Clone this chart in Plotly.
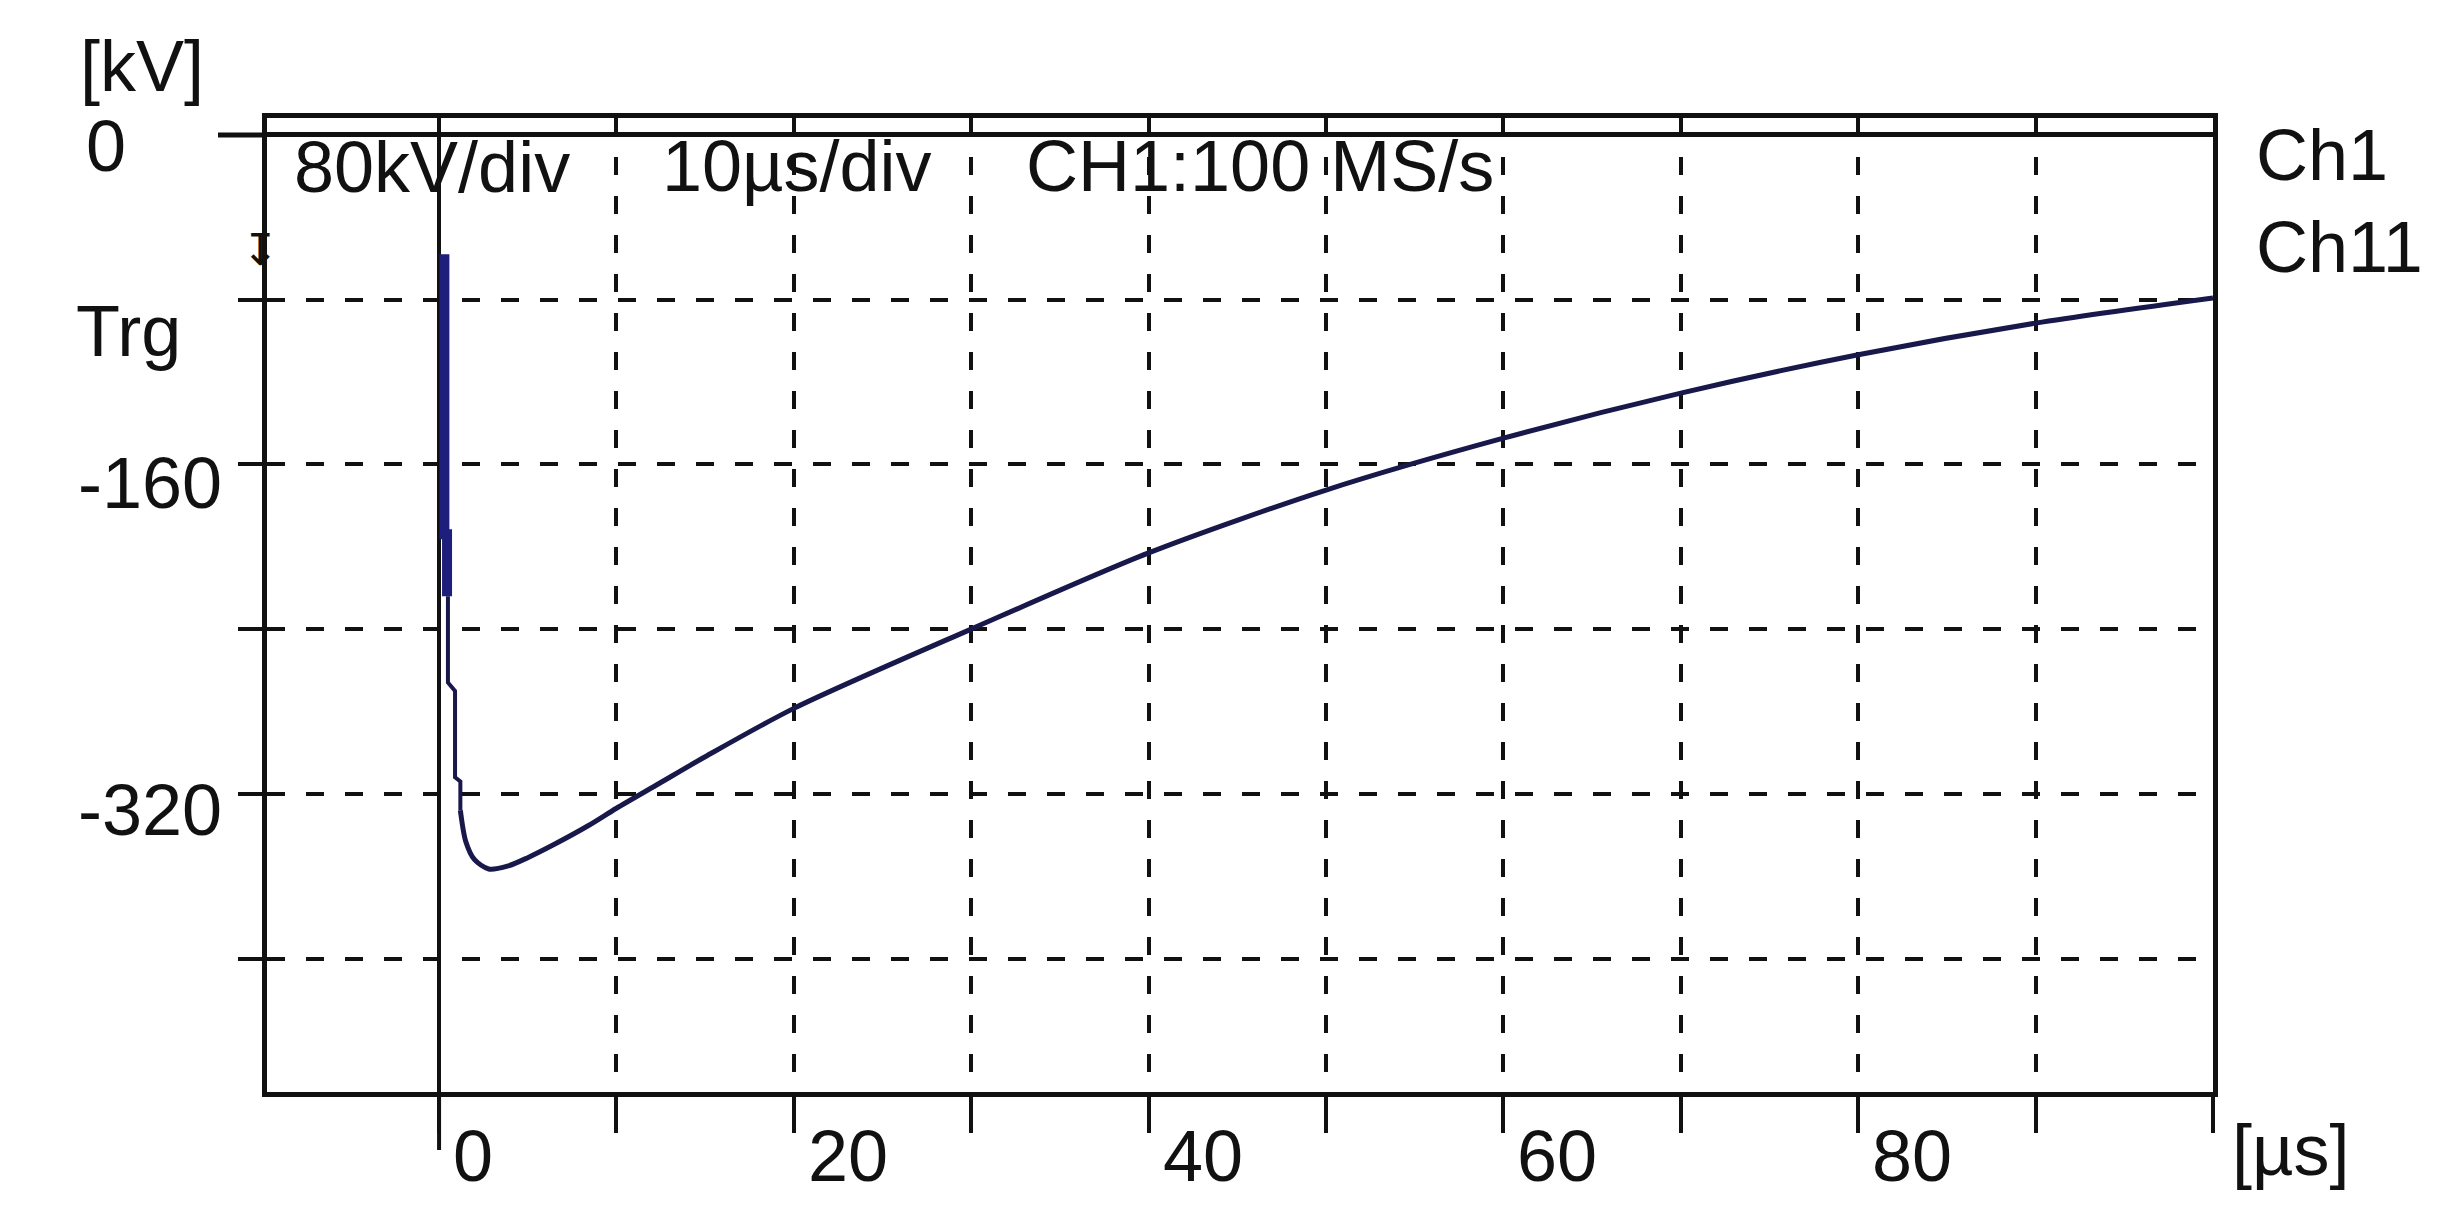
import plotly.graph_objects as go

# Impulse waveform (time in µs, voltage in kV).
# Front spike (the thick blue stroke right after the trigger).
SPIKE_T = [0.3, 0.3, 0.45, 0.45]
SPIKE_KV = [-58, -194, -194, -224]

# Stepped fall right after the spike.
FRONT_T = [0.5, 0.5, 0.9, 0.9, 1.2, 1.2]
FRONT_KV = [-224, -266, -270, -312, -314, -328]

# Smooth tail of the impulse.
TAIL_T = [1.2, 1.5, 2.0, 2.8, 3.9, 5.0, 6.5, 8.4, 10.0, 12.4, 15.0, 20.0,
          30.0, 40.0, 50.0, 60.0, 70.0, 80.0, 90.0, 100.0]
TAIL_KV = [-328, -343, -352, -356.5, -355, -351, -344.5, -335.5, -327, -315,
           -302, -278.5, -240, -203, -172.5, -147.3, -125.4, -106.8, -91.4,
           -79.2]

X_GRID = [0, 10, 20, 30, 40, 50, 60, 70, 80, 90, 100]
Y_GRID = [0, -80, -160, -240, -320, -400]
X_LABELS = [0, 20, 40, 60, 80]
Y_LABELS = ["0", "-160", "-320"]

X_RANGE = [-9.7, 100]
Y_RANGE = [-464.8, 8.2]

W, H = 2455, 1222
L, R, T, B = 259, 250, 110, 138
PW, PH = W - L - R, H - T - B

FONT = "Liberation Sans, Arial, sans-serif"
INK = "#111111"
FS = 72
LIFT = 8  # annotation boxes sit a little low against the cap height


def paper(xpx, ypx):
    return (xpx - L) / PW, (H - B - ypx) / PH


def label(text, xpx, ypx, size=FS, family=FONT):
    px, py = paper(xpx, ypx - LIFT)
    return dict(text=text, x=px, y=py, xref="paper", yref="paper",
                xanchor="left", yanchor="middle", showarrow=False,
                font=dict(family=family, size=size, color=INK))


fig = go.Figure()
fig.add_trace(go.Scatter(x=SPIKE_T, y=SPIKE_KV, mode="lines",
                         line=dict(color="#1e1e7c", width=10),
                         hoverinfo="skip", showlegend=False))
fig.add_trace(go.Scatter(x=FRONT_T, y=FRONT_KV, mode="lines",
                         line=dict(color="#18184a", width=4),
                         showlegend=False))
fig.add_trace(go.Scatter(x=TAIL_T, y=TAIL_KV, mode="lines",
                         line=dict(color="#18184a", width=5,
                                   shape="spline", smoothing=0.8),
                         showlegend=False))

annotations = [
    label("[kV]", 70, 66),
    label(Y_LABELS[0], 76, 146),
    label(Y_LABELS[1], 68, 483),
    label(Y_LABELS[2], 68, 810),
    label("Trg", 66, 331),
    label("\u21a7", 232, 249, size=44, family="DejaVu Sans"),
    label("[µs]", 2222, 1150),
    label("80kV/div", 284, 167),
    label("10µs/div", 652, 166),
    label("CH1:100 MS/s", 1016, 166),
    label("Ch1", 2246, 155),
    label("Ch11", 2246, 247),
]
# x-axis numbers sit to the right of their tick
for val in X_LABELS:
    annotations.append(dict(
        text=str(val), x=val, y=paper(0, 1148)[1], xref="x",
        yref="paper", xanchor="left", yanchor="middle", xshift=12,
        showarrow=False, font=dict(family=FONT, size=FS, color=INK)))

fig.update_layout(
    width=W, height=H,
    margin=dict(l=L, r=R, t=T, b=B, pad=0),
    paper_bgcolor="white", plot_bgcolor="white",
    showlegend=False,
    annotations=annotations,
    xaxis=dict(range=X_RANGE, tickvals=X_GRID, showticklabels=False,
               ticks="outside", ticklen=36, tickwidth=4, tickcolor=INK,
               showline=True, linewidth=5, linecolor=INK, mirror=True,
               showgrid=True, gridcolor=INK, gridwidth=4,
               griddash="18px,21px",
               zeroline=True, zerolinecolor=INK, zerolinewidth=4),
    # top strip: short solid division marks between the frame and the 0 line
    xaxis2=dict(range=X_RANGE, tickvals=X_GRID, showticklabels=False,
                overlaying="x", side="top", ticks="inside", ticklen=18,
                tickwidth=4, tickcolor=INK, showgrid=False, zeroline=False,
                showline=False),
    yaxis=dict(range=Y_RANGE, tickvals=Y_GRID, showticklabels=False,
               ticks="outside", ticklen=24, tickwidth=4, tickcolor=INK,
               showline=True, linewidth=5, linecolor=INK, mirror=True,
               showgrid=True, gridcolor=INK, gridwidth=4,
               griddash="18px,21px",
               zeroline=True, zerolinecolor=INK, zerolinewidth=5),
)
# dummy trace so the top axis is drawn
fig.add_trace(go.Scatter(x=[None], y=[None], xaxis="x2", showlegend=False,
                         hoverinfo="skip"))

# the 0 kV line runs out past the frame, the 0 µs line runs below the axis
fig.add_shape(type="line", xref="paper", yref="y",
              x0=paper(210, 0)[0], x1=0, y0=0, y1=0,
              line=dict(color=INK, width=5))
fig.add_shape(type="line", xref="x", yref="paper", x0=0, x1=0,
              y0=0, y1=paper(0, 1142)[1], line=dict(color=INK, width=4))

fig.write_html("out.html")
